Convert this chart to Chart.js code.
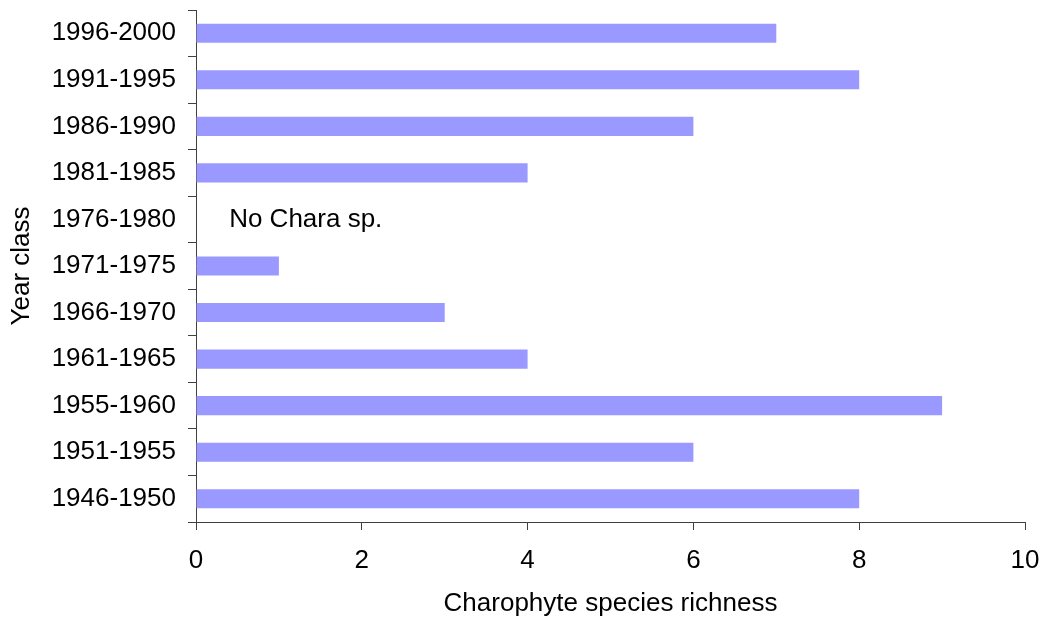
<!DOCTYPE html>
<html>
<head>
<meta charset="utf-8">
<script src="https://cdn.jsdelivr.net/npm/chart.js@4"></script>
<style>
html,body{margin:0;padding:0;background:#fff;}
#wrap{width:1041px;height:619px;position:relative;}
</style>
</head>
<body>
<div id="wrap"><canvas id="c" width="1041" height="619"></canvas></div>
<script>
const categories = ["1996-2000","1991-1995","1986-1990","1981-1985","1976-1980","1971-1975","1966-1970","1961-1965","1955-1960","1951-1955","1946-1950"];
const richness = [7, 8, 6, 4, 0, 1, 3, 4, 9, 6, 8];
const xTicks = [0, 2, 4, 6, 8, 10];
const noteText = "No Chara sp.";
const noteCategory = "1976-1980";
const noteX = 0.4;

const FONT = "'Liberation Sans', Arial, sans-serif";
const AXIS = "#404040";

const notePlugin = {
  id: 'note',
  afterDatasetsDraw(chart) {
    const {ctx, scales} = chart;
    const x = scales.x.getPixelForValue(noteX);
    const y = scales.y.getPixelForValue(categories.indexOf(noteCategory));
    ctx.save();
    ctx.font = "26px " + FONT;
    ctx.fillStyle = "#000";
    ctx.textAlign = "left";
    ctx.textBaseline = "middle";
    ctx.fillText(noteText, x, y);
    ctx.restore();
  }
};

new Chart(document.getElementById('c'), {
  type: 'bar',
  data: {
    labels: categories,
    datasets: [{
      data: richness,
      backgroundColor: '#9999FF',
      borderWidth: 0,
      barPercentage: 0.41,
      categoryPercentage: 1.0
    }]
  },
  options: {
    indexAxis: 'y',
    responsive: false,
    animation: false,
    layout: { padding: { top: 10, right: 16, left: 0, bottom: 0 } },
    plugins: { legend: { display: false }, tooltip: { enabled: false } },
    scales: {
      x: {
        min: 0, max: 10,
        afterBuildTicks(s) { s.ticks = xTicks.map(v => ({value: v})); },
        afterFit(s) { s.height = 97; s.paddingLeft = 0; s.paddingRight = 0; },
        grid: { drawOnChartArea: false, drawTicks: true, tickLength: 8, color: AXIS, lineWidth: 1 },
        border: { display: true, color: AXIS, width: 1 },
        ticks: { color: '#000', font: { family: FONT, size: 26 }, padding: 15, maxRotation: 0 },
        title: { display: true, text: 'Charophyte species richness', color: '#000', font: { family: FONT, size: 26 }, padding: { top: 8, bottom: 0 } }
      },
      y: {
        offset: true,
        afterFit(s) { s.width = 196; s.paddingTop = 0; s.paddingBottom = 0; },
        grid: { offset: true, drawOnChartArea: false, drawTicks: true, tickLength: 8, color: AXIS, lineWidth: 1 },
        border: { display: true, color: AXIS, width: 1 },
        ticks: { color: '#000', font: { family: FONT, size: 26 }, padding: 12 },
        title: { display: true, text: 'Year class', color: '#000', font: { family: FONT, size: 26 }, padding: { top: 6, bottom: 0 } }
      }
    }
  },
  plugins: [notePlugin]
});
</script>
</body>
</html>
